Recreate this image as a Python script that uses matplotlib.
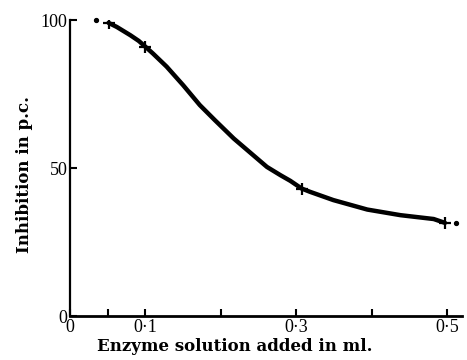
import matplotlib.pyplot as plt
import numpy as np

curve_x = [0.051, 0.062, 0.080, 0.091, 0.100, 0.110, 0.128, 0.150, 0.172, 0.192,
           0.217, 0.239, 0.261, 0.279, 0.292, 0.307, 0.318, 0.349, 0.394, 0.438,
           0.482, 0.497]
curve_y = [99.1, 97.7, 94.9, 93.0, 91.0, 88.7, 84.3, 78.0, 71.3, 66.2,
           60.0, 55.2, 50.4, 47.6, 45.7, 43.1, 42.0, 39.2, 36.0, 34.1,
           32.8, 31.5]

# points mesurés (croix)
cross_x = [0.051, 0.100, 0.307, 0.497]
cross_y = [99.1, 91.0, 43.1, 31.5]

# points isolés aux extrémités
dot_x = [0.035, 0.512]
dot_y = [100.2, 31.5]

xticks = [0, 0.05, 0.1, 0.2, 0.3, 0.4, 0.5]
xtick_labels = ["0", "", "0\u00b71", "", "0\u00b73", "", "0\u00b75"]
yticks = [0, 50, 100]
ytick_labels = ["0", "50", "100"]

plt.rcParams['font.family'] = ['Liberation Serif', 'DejaVu Serif']

fig = plt.figure(figsize=(4.67, 3.6), dpi=100)
ax = fig.add_axes([0.15, 0.122, 0.84, 0.822])

ax.plot(curve_x, curve_y, color='black', linewidth=3.2,
        solid_capstyle='round', solid_joinstyle='round')
ax.plot(cross_x, cross_y, linestyle='none', marker='+', color='black',
        markersize=9, markeredgewidth=1.6)
ax.plot(dot_x, dot_y, linestyle='none', marker='o', color='black',
        markersize=2.8, clip_on=False)

ax.set_xlim(0, 0.52)
ax.set_ylim(0, 100)

ax.spines['top'].set_visible(False)
ax.spines['right'].set_visible(False)
ax.spines['left'].set_linewidth(1.6)
ax.spines['bottom'].set_linewidth(2.0)

ax.set_xticks(xticks)
ax.set_xticklabels(xtick_labels)
ax.set_yticks(yticks)
ax.set_yticklabels(ytick_labels)
ax.tick_params(direction='in', length=5, width=1.5, labelsize=13, pad=2)

lab_font = {'family': 'DejaVu Serif', 'weight': 'bold', 'size': 12}
ax.set_xlabel("Enzyme solution added in ml.", fontdict=lab_font)
ax.set_ylabel("Inhibition in p.c.", fontdict=lab_font)
ax.xaxis.set_label_coords(0.42, -0.075)
ax.yaxis.set_label_coords(-0.095, 0.48)

plt.savefig("out.png", dpi=100)
